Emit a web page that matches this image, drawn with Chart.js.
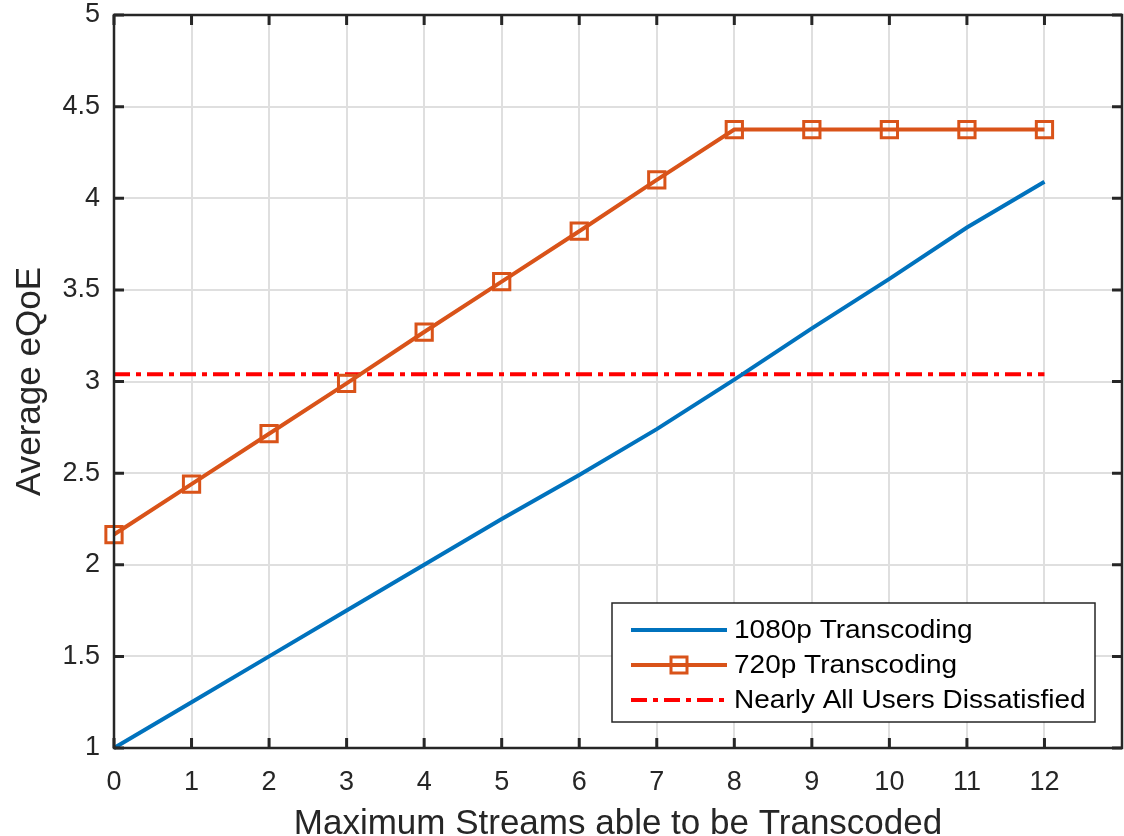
<!DOCTYPE html>
<html>
<head>
<meta charset="utf-8">
<script src="https://cdn.jsdelivr.net/npm/chart.js@4"></script>
<style>
  body { margin: 0; background: #fff; }
  #wrap { width: 1124px; height: 836px; }
</style>
</head>
<body>
<div id="wrap"><canvas id="line-chart" width="1124" height="836"></canvas></div>
<script>
// dados
const streams = [0, 1, 2, 3, 4, 5, 6, 7, 8, 9, 10, 11, 12];
const qoe1080 = [1.0, 1.25, 1.5, 1.75, 2.0, 2.25, 2.49, 2.74, 3.01, 3.29, 3.56, 3.84, 4.09];
const qoe720 = [2.165, 2.44, 2.715, 2.99, 3.27, 3.545, 3.82, 4.1, 4.375, 4.375, 4.375, 4.375, 4.375];
const limiarX = [0, 12];
const limiarY = [3.04, 3.04];
const legendas = ["1080p Transcoding", "720p Transcoding", "Nearly All Users Dissatisfied"];

const azul = "#0072BD";
const laranja = "#D95319";
const vermelho = "#FF0000";
const fonte = "'Liberation Sans', Arial, sans-serif";

const pontos = (xs, ys) => xs.map((x, i) => ({ x: x, y: ys[i] }));

// caixa + ticks para dentro + legenda (estilo matlab)
const caixaPlugin = {
  id: "caixa",
  afterDraw(chart) {
    const { ctx, chartArea: a, scales } = chart;
    ctx.save();
    ctx.strokeStyle = "#262626";
    ctx.lineWidth = 2.5;
    ctx.strokeRect(a.left, a.top, a.right - a.left, a.bottom - a.top);
    ctx.lineWidth = 3;
    ctx.beginPath();
    for (let v = 0; v <= 12; v++) {
      const px = scales.x.getPixelForValue(v);
      ctx.moveTo(px, a.bottom); ctx.lineTo(px, a.bottom - 10);
      ctx.moveTo(px, a.top); ctx.lineTo(px, a.top + 10);
    }
    for (let v = 1; v <= 5; v += 0.5) {
      const py = scales.y.getPixelForValue(v);
      ctx.moveTo(a.left, py); ctx.lineTo(a.left + 10, py);
      ctx.moveTo(a.right, py); ctx.lineTo(a.right - 10, py);
    }
    ctx.stroke();

    // legenda
    const lx = 612, ly = 603, lw = 483, lh = 119;
    ctx.fillStyle = "#fff";
    ctx.fillRect(lx, ly, lw, lh);
    ctx.strokeStyle = "#262626";
    ctx.lineWidth = 1.5;
    ctx.strokeRect(lx, ly, lw, lh);
    const linhas = [ly + 27, ly + 62, ly + 97];
    const cores = [azul, laranja, vermelho];
    linhas.forEach((yy, i) => {
      ctx.strokeStyle = cores[i];
      ctx.lineWidth = 4;
      ctx.setLineDash(i == 2 ? [16, 6, 5, 6] : []);
      ctx.beginPath();
      ctx.moveTo(lx + 19, yy); ctx.lineTo(lx + 115, yy);
      ctx.stroke();
      ctx.setLineDash([]);
      if (i == 1) {
        ctx.lineWidth = 3;
        ctx.strokeRect(lx + 59, yy - 8, 16, 16);
      }
      ctx.save();
      ctx.translate(lx + 122, yy + 1);
      ctx.scale(1.12, 1);
      ctx.font = "25px " + fonte;
      ctx.textBaseline = "middle";
      ctx.fillStyle = "#000";
      ctx.fillText(legendas[i], 0, 0);
      ctx.restore();
    });
    ctx.restore();
  }
};

new Chart(document.getElementById("line-chart"), {
  type: "line",
  data: {
    datasets: [
      {
        label: legendas[0],
        data: pontos(streams, qoe1080),
        borderColor: azul,
        borderWidth: 4,
        pointRadius: 0,
        tension: 0,
        clip: false,
      },
      {
        label: legendas[1],
        data: pontos(streams, qoe720),
        borderColor: laranja,
        borderWidth: 4,
        pointStyle: "rect",
        pointRadius: 11.5,
        pointBorderWidth: 3,
        pointBorderColor: laranja,
        pointBackgroundColor: "rgba(0,0,0,0)",
        tension: 0,
        clip: false,
      },
      {
        label: legendas[2],
        data: pontos(limiarX, limiarY),
        borderColor: vermelho,
        borderWidth: 4,
        borderDash: [16, 6, 5, 6],
        pointRadius: 0,
        tension: 0,
        clip: false,
      },
    ],
  },
  plugins: [caixaPlugin],
  options: {
    responsive: false,
    animation: false,
    layout: { autoPadding: false, padding: { top: 15, right: 2, left: 0, bottom: 0 } },
    plugins: {
      legend: { display: false },
      tooltip: { enabled: false },
    },
    scales: {
      x: {
        type: "linear",
        min: 0,
        max: 13,
        afterFit: (s) => { s.height = 88; s.paddingLeft = 0; s.paddingRight = 0; },
        afterBuildTicks: (s) => { s.ticks = streams.concat([13]).map((v) => ({ value: v })); },
        ticks: {
          padding: 18,
          color: "#262626",
          font: { family: fonte, size: 27 },
          maxRotation: 0,
          callback: (v) => (v <= 12 ? v : ""),
        },
        grid: { color: "#dfdfdf", lineWidth: 2, drawTicks: false },
        border: { display: false },
        title: {
          display: true,
          text: "Maximum Streams able to be Transcoded",
          color: "#262626",
          font: { family: fonte, size: 35 },
          padding: { top: 0, bottom: -9 },
        },
      },
      y: {
        min: 1,
        max: 5,
        afterFit: (s) => { s.width = 114; s.paddingTop = 0; s.paddingBottom = 0; },
        ticks: {
          stepSize: 0.5,
          padding: 14,
          color: "#262626",
          font: { family: fonte, size: 27 },
          callback: (v) => String(Number(v)),
        },
        grid: { color: "#dfdfdf", lineWidth: 2, drawTicks: false },
        border: { display: false },
        title: {
          display: true,
          text: "Average eQoE",
          color: "#262626",
          font: { family: fonte, size: 35 },
          padding: { top: 9, bottom: 0 },
        },
      },
    },
  },
});
</script>
</body>
</html>
